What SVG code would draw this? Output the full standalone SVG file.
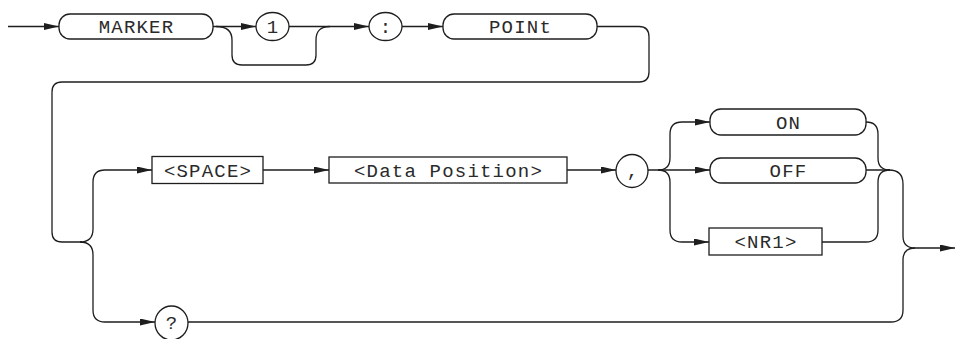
<svg xmlns="http://www.w3.org/2000/svg" width="963" height="339" viewBox="0 0 963 339">
<style>
.ln{fill:none;stroke:#1e1e1e;stroke-width:1.3}
.bx{fill:#fff;stroke:#1e1e1e;stroke-width:1.3}
.tx{font-family:"Liberation Mono","Courier New",monospace;font-size:19px;letter-spacing:1.2px;fill:#2a2a2a;text-anchor:middle}
</style>
<defs>
<marker id="arr" viewBox="0 0 15 7" refX="15" refY="3.5" markerWidth="15" markerHeight="7" markerUnits="userSpaceOnUse" orient="auto"><path d="M0,0 L15,3.5 L0,7 z" fill="#1e1e1e"/></marker>
</defs>
<rect width="963" height="339" fill="#fff"/>
<g id="connectors">
<path class="ln" d="M8,26.5 H59" marker-end="url(#arr)"/>
<path class="ln" d="M213,26.5 H256" marker-end="url(#arr)"/>
<path class="ln" d="M216,26.5 Q232,26.5 232,40 V55 Q232,65 242,65 H306 Q316,65 316,55 V40 Q316,26.5 330,26.5"/>
<path class="ln" d="M289,26.5 H369" marker-end="url(#arr)"/>
<path class="ln" d="M402,26.5 H443" marker-end="url(#arr)"/>
<path class="ln" d="M597,26.5 H639 Q649,26.5 649,37 V72 Q649,82 639,82 H62 Q52,82 52,92 V232 Q52,242 62,242 H82"/>
<path class="ln" d="M80,242 Q93,242 93,229 V182 Q93,170 105,170 H152" marker-end="url(#arr)"/>
<path class="ln" d="M80,242 Q93,242 93,255 V310 Q93,322 105,322 H155" marker-end="url(#arr)"/>
<path class="ln" d="M263,170 H329" marker-end="url(#arr)"/>
<path class="ln" d="M567,170 H616" marker-end="url(#arr)"/>
<path class="ln" d="M648,170 H710" marker-end="url(#arr)"/>
<path class="ln" d="M658,170 Q670,170 670,158 V134 Q670,122 682,122 H710" marker-end="url(#arr)"/>
<path class="ln" d="M658,170 Q670,170 670,182 V230 Q670,242 682,242 H709" marker-end="url(#arr)"/>
<path class="ln" d="M866,122 Q878,122 878,134 V158 Q878,170 890,170"/>
<path class="ln" d="M822,242 H866 Q878,242 878,230 V182 Q878,170 890,170"/>
<path class="ln" d="M866,170 H889 Q903,170 903,184 V236 Q903,248 915,248 H955" marker-end="url(#arr)"/>
<path class="ln" d="M188,322 H891 Q903,322 903,310 V260 Q903,248 915,248"/>
</g>
<g id="marker"><rect class="bx" x="59" y="14" width="154" height="25" rx="11"/><text class="tx" x="136.5" y="33">MARKER</text></g>
<g id="one"><ellipse class="bx" cx="272.5" cy="26.5" rx="16.5" ry="14"/><text class="tx" x="273" y="33">1</text></g>
<g id="colon"><ellipse class="bx" cx="385.5" cy="26.5" rx="16.5" ry="14"/><text class="tx" x="386" y="33">:</text></g>
<g id="point"><rect class="bx" x="443" y="14" width="154" height="25" rx="11"/><text class="tx" x="520.5" y="33">POINt</text></g>
<g id="space"><rect class="bx" x="152" y="156.5" width="111" height="27"/><text class="tx" x="208" y="176.5">&lt;SPACE&gt;</text></g>
<g id="dataposition"><rect class="bx" x="329" y="157" width="238" height="26"/><text class="tx" x="448.5" y="176.5">&lt;Data Position&gt;</text></g>
<g id="comma"><ellipse class="bx" cx="632" cy="171" rx="16" ry="16.5"/><text class="tx" x="633" y="177">,</text></g>
<g id="on"><rect class="bx" x="710" y="109" width="156" height="26" rx="11"/><text class="tx" x="788.5" y="128.5">ON</text></g>
<g id="off"><rect class="bx" x="710" y="158" width="156" height="25" rx="11"/><text class="tx" x="788.5" y="177">OFF</text></g>
<g id="nr1"><rect class="bx" x="709" y="228" width="113" height="27"/><text class="tx" x="766" y="248">&lt;NR1&gt;</text></g>
<g id="query"><ellipse class="bx" cx="171.5" cy="323" rx="16.5" ry="17"/><text class="tx" x="172" y="329">?</text></g>
</svg>
